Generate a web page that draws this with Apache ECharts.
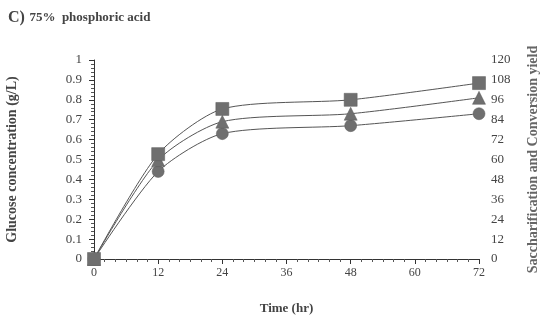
<!DOCTYPE html>
<html>
<head>
<meta charset="utf-8">
<script src="https://cdn.jsdelivr.net/npm/echarts@6/dist/echarts.min.js"></script>
<style>
  html, body { margin: 0; padding: 0; background: #fff; }
  #chart { width: 542px; height: 329px; }
</style>
</head>
<body>
<div id="chart"></div>
<script>
const times = [0, 12, 24, 48, 72]
const squareVals = [0, 0.527, 0.754, 0.80, 0.884]
const triangleVals = [0, 0.497, 0.69, 0.73, 0.81]
const circleVals = [0, 0.44, 0.63, 0.67, 0.73]

const font = 'Liberation Serif'
const ink = '#444'
const markColor = '#6f6f6f'

const toPairs = vals => times.map((t, i) => [t, vals[i]])

const mkSeries = (name, vals, symbol, size) => ({
  name,
  type: 'line',
  smooth: 0.25,
  data: toPairs(vals),
  symbol,
  symbolSize: size,
  showAllSymbol: true,
  lineStyle: { color: '#555', width: 1 },
  itemStyle: { color: markColor, borderColor: '#5a5a5a', borderWidth: 0.5 },
  z: 3
})

const chart = echarts.init(document.getElementById('chart'), null, { renderer: 'canvas' })
chart.setOption({
  backgroundColor: '#fff',
  animation: false,
  textStyle: { fontFamily: font },
  title: {
    left: 3, top: 4,
    text: '{c|C)} {t|75%  phosphoric acid}',
    textStyle: {
      rich: {
        c: { fontFamily: font, fontWeight: 'bold', fontSize: 16, color: ink },
        t: { fontFamily: font, fontWeight: 'bold', fontSize: 13, color: ink }
      }
    }
  },
  grid: { left: 94, right: 63, top: 60, bottom: 70, outerBoundsMode: 'none', containLabel: false },
  xAxis: {
    type: 'value',
    min: 0, max: 72, interval: 12,
    name: 'Time (hr)',
    nameLocation: 'middle',
    nameGap: 43,
    nameTextStyle: { fontFamily: font, fontWeight: 'bold', fontSize: 13, color: ink },
    axisLine: { onZero: false, lineStyle: { color: '#333', width: 1 } },
    axisTick: { inside: false, length: 5, lineStyle: { color: '#333' } },
    minorTick: { show: true, splitNumber: 6, length: 3, lineStyle: { color: '#555' } },
    axisLabel: { color: ink, fontSize: 12, fontFamily: font, margin: 8 },
    splitLine: { show: false }
  },
  yAxis: [{
    type: 'value',
    min: 0, max: 1, interval: 0.1,
    name: 'Glucose concentration (g/L)',
    nameLocation: 'middle',
    nameGap: 75,
    nameTextStyle: { fontFamily: font, fontWeight: 'bold', fontSize: 14, color: ink },
    axisLine: { show: true, lineStyle: { color: '#333', width: 1 } },
    axisTick: { length: 5, lineStyle: { color: '#333' } },
    minorTick: { show: true, splitNumber: 5, length: 3, lineStyle: { color: '#555' } },
    axisLabel: { color: ink, fontSize: 13, fontFamily: font, margin: 12 },
    splitLine: { show: false }
  }, {
    type: 'value',
    min: 0, max: 120, interval: 12,
    position: 'right',
    name: 'Saccharification and Conversion yield',
    nameLocation: 'middle',
    nameGap: 47,
    nameRotate: 90,
    nameTextStyle: { fontFamily: font, fontWeight: 'bold', fontSize: 14, color: '#666' },
    axisLine: { show: false },
    axisTick: { show: false },
    axisLabel: { color: ink, fontSize: 13, fontFamily: font, margin: 12 },
    splitLine: { show: false }
  }],
  series: [
    mkSeries('Circle', circleVals, 'circle', 12),
    mkSeries('Triangle', triangleVals, 'triangle', 13),
    mkSeries('Square', squareVals, 'rect', 13)
  ]
})
</script>
</body>
</html>
